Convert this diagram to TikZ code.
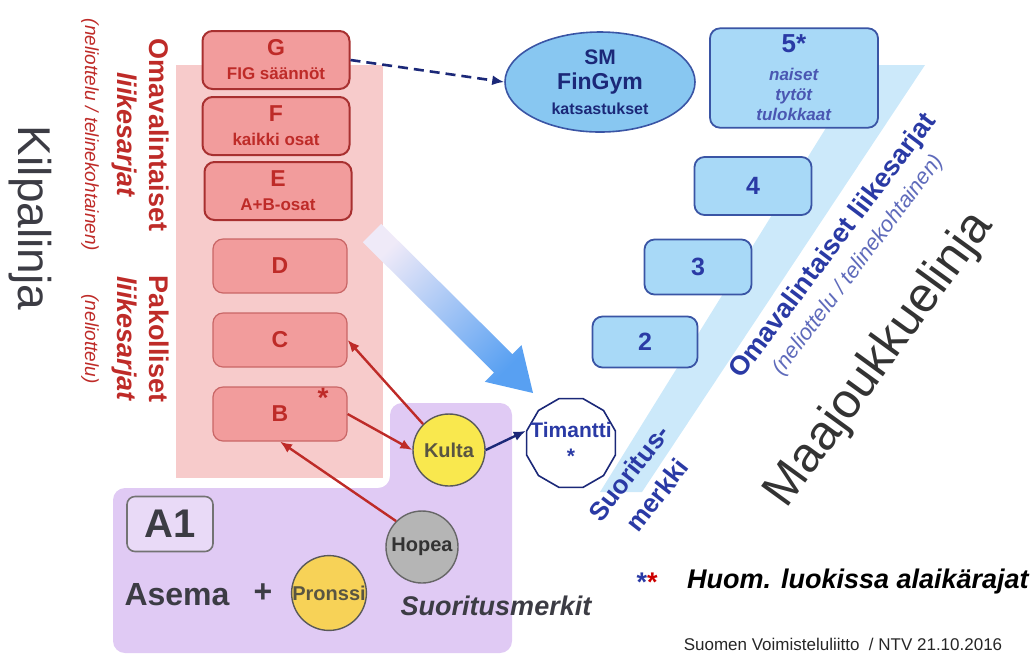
\documentclass[tikz,border=0pt]{standalone}
\usepackage{fontspec}
\setmainfont{Liberation Sans}
\usetikzlibrary{shapes.geometric,arrows.meta}
\definecolor{boxred}{HTML}{F29C9C}
\definecolor{edgered}{HTML}{A83030}
\definecolor{softred}{HTML}{C96666}
\definecolor{txtred}{HTML}{BE2B28}
\definecolor{pinkbg}{HTML}{F7CBCB}
\definecolor{lilac}{HTML}{E0CAF4}
\definecolor{boxblue}{HTML}{A8D9F7}
\definecolor{edgeblue}{HTML}{3A55A5}
\definecolor{txtblue}{HTML}{2A3AA5}
\definecolor{deepnavy}{HTML}{1B2878}
\definecolor{bandblue}{HTML}{CCE9FA}
\definecolor{ovalblue}{HTML}{88C7F1}
\definecolor{medgold}{HTML}{F9E84E}
\definecolor{medbronze}{HTML}{F7D257}
\definecolor{medsilver}{HTML}{B5B5B5}
\definecolor{ink}{HTML}{3C3C44}
\definecolor{arrowlight}{HTML}{EFEAF8}
\definecolor{arrowblue}{HTML}{58A0F2}
\newcommand{\setfs}[2]{\fontsize{#1}{#2}\selectfont}

\begin{document}
\begin{tikzpicture}[x=0.5pt,y=-0.5pt,
    redbox/.style={draw=edgered,line width=1pt,fill=boxred,rounded corners=5pt,
      minimum width=73.5pt,minimum height=29pt,inner sep=1pt,align=center,
      text=txtred,font=\setfs{11.5}{12}\bfseries},
    redbox2/.style={redbox,draw=softred,line width=.6pt,minimum width=67pt,minimum height=27pt},
    bluebox/.style={draw=edgeblue,line width=.9pt,fill=boxblue,rounded corners=5pt,
      align=center,text=txtblue,font=\setfs{12.5}{14}\bfseries},
    medal/.style={circle,draw=black!65,line width=.7pt,minimum size=36pt,inner sep=0pt,
      font=\setfs{10}{12}\bfseries},
    redarrow/.style={draw=txtred,line width=1.2pt,-{Latex[length=6pt,width=5pt]}},
    sidetext/.style={rotate=-90,align=center,text=txtred}] % Kilpalinja / Maajoukkuelinja
  \useasboundingbox (0,0) rectangle (1032,655);
  % background fields
  \fill[pinkbg] (176,65) rectangle (383,478);
  \fill[lilac,rounded corners=6pt] (113,488) -- (390,488) -- (390,403) -- (512,403) -- (512,653) -- (113,653) -- cycle;
  \fill[bandblue] (600,492) -- (642,492) -- (925,65) -- (865,65) -- cycle;
  \shade[top color=arrowlight,bottom color=arrowblue,shading angle=45]
    (381.2,223.8) -- (512.4,354.2) -- (521.5,345.0) -- (533,393) -- (484.9,381.8) -- (494.0,372.6) -- (362.8,242.2) -- cycle;

  % left column
  \node[rotate=-90,font=\setfs{23}{26},text=ink] (kilpa) at (30,218) {Kilpalinja};
  \node[sidetext,font=\setfs{13.5}{16}\bfseries] (omav) at (125,135)
    {Omavalintaiset\\\textit{liikesarjat}\\{\mdseries\itshape\setfs{9.5}{16}(neliottelu / telinekohtainen)}};
  \node[sidetext,font=\setfs{13.5}{16}\bfseries] (pakol) at (125,339)
    {Pakolliset\\\textit{liikesarjat}\\{\mdseries\itshape\setfs{9.5}{16}(neliottelu)}};

  \node[redbox] (G) at (276,60) {G\\{\setfs{8.5}{10}FIG säännöt}};
  \node[redbox] (F) at (276,126) {F\\{\setfs{8.5}{10}kaikki osat}};
  \node[redbox] (E) at (278,191) {E\\{\setfs{8.5}{10}A+B-osat}};
  \node[redbox2] (D) at (280,266) {D};
  \node[redbox2] (C) at (280,340) {C};
  \node[redbox2] (B) at (280,414) {B};
  \node[text=txtred,font=\setfs{14}{16}\bfseries] (bstar) at (323,398) {*};

  % medals
  \node[medal,fill=medgold,text=black!75!yellow] (kulta) at (449,450) {Kulta};
  \node[medal,fill=medsilver,draw=black!60,text=black!80] (hopea) at (422,547) {Hopea};
  \node[medal,fill=medbronze,text=black!75!yellow] (pronssi) at (329,593) {Pronssi};
  \node[draw=black!55,line width=.8pt,rounded corners=4pt,fill=lilac!70!white,minimum width=43pt,
    minimum height=27.5pt,font=\setfs{20}{22}\bfseries,text=ink] (a1) at (170,524) {A1};
  \node[font=\setfs{16}{18}\bfseries,text=ink] (asema) at (177,595) {Asema};
  \node[font=\setfs{16}{18}\bfseries,text=ink] (plus) at (263,593) {+};
  \node[font=\setfs{13.5}{16}\bfseries\itshape,text=ink] (smerkit) at (496,606) {Suoritusmerkit};
  \node[regular polygon,regular polygon sides=12,draw=deepnavy,line width=.8pt,fill=white,
    minimum size=46pt,inner sep=0pt] (tim) at (571,443) {};
  \node[align=center,text=txtblue,font=\setfs{10.5}{13}\bfseries] (timtext) at (tim.center) {Timantti\\*};

  % right column
  \node[ellipse,draw=edgeblue,line width=.8pt,fill=ovalblue,minimum width=95pt,minimum height=50pt,
    inner sep=0pt,align=center,text=deepnavy,font=\setfs{10.5}{12.5}\bfseries] (sm) at (600,82)
    {SM\\{\setfs{11.5}{12}FinGym}\\{\setfs{8}{10}katsastukset}};
  \node[bluebox,minimum width=84pt,minimum height=48.5pt,font=\setfs{8.5}{10}\bfseries] (n5) at (794,78)
    {{\setfs{13}{10}5*}\\[4pt]\textcolor{txtblue!85!white}{\textit{naiset}}\\\textcolor{txtblue!85!white}{\textit{tytöt}}\\\textcolor{txtblue!85!white}{\textit{tulokkaat}}};
  \node[bluebox,minimum width=58.5pt,minimum height=29pt] (n4) at (753,186) {4};
  \node[bluebox,minimum width=53.5pt,minimum height=27.5pt] (n3) at (698,267) {3};
  \node[bluebox,minimum width=52.5pt,minimum height=25.5pt] (n2) at (645,342) {2};

  \node[rotate=53,align=center,text=txtblue,font=\setfs{13.5}{15}\bfseries] (omav2) at (845,255)
    {Omavalintaiset liikesarjat\\{\mdseries\itshape\color{txtblue!75!white}\setfs{11}{15}(neliottelu / telinekohtainen)}};
  \node[rotate=52,align=center,text=txtblue,font=\setfs{13}{18}\bfseries] (smerkki) at (643,484) {Suoritus-\\merkki};
  \node[rotate=54,font=\setfs{24.5}{28},text=black!80] (maaj) at (880,360) {Maajoukkuelinja};

  \node[font=\setfs{13.5}{16}\bfseries] (stars) at (647,582) {\textcolor{txtblue}{*}\textcolor{red!80!black}{*}};
  \node[anchor=west,font=\setfs{13.5}{16}\bfseries\itshape] (huom) at (680,582) {Huom. luokissa alaikärajat};
  \node[font=\setfs{8.5}{10},text=black!85] (foot) at (843,644) {Suomen Voimisteluliitto~ / NTV 21.10.2016};

  % connectors
  \draw[redarrow] (kulta.135) -- (C.east);
  \draw[redarrow] (B.east) -- (kulta.west);
  \draw[redarrow] (hopea.north west) -- (B.south);
  \draw[deepnavy,line width=1.2pt,-{Latex[length=6pt,width=5pt]}] (kulta.east) -- (tim.165);
  \draw[deepnavy,line width=1.3pt,dash pattern=on 5pt off 3pt,-{Latex[length=6pt,width=5pt]}] (G.east) -- (sm.west);
\end{tikzpicture}
\end{document}
